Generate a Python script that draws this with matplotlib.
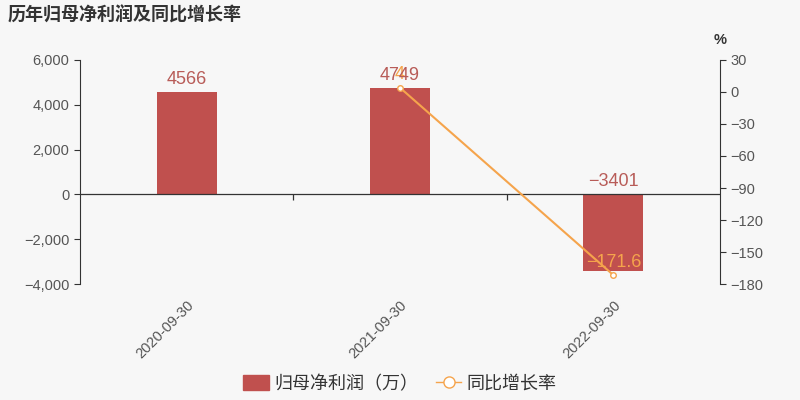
import matplotlib.pyplot as plt
from matplotlib.ticker import FuncFormatter
from matplotlib.patches import FancyBboxPatch
from matplotlib.lines import Line2D

plt.rcParams['font.family'] = ['Liberation Sans', 'Noto Sans CJK SC', 'DejaVu Sans']
plt.rcParams['axes.unicode_minus'] = False

dates = ["2020-09-30", "2021-09-30", "2022-09-30"]
profit = [4566, 4749, -3401]
growth_x = [1, 2]
growth = [4.0, -171.6]

bar_color = "#c0504e"
line_color = "#f5a44c"
axis_color = "#333333"
text_color = "#555555"
cjk = ['Noto Sans CJK SC', 'DejaVu Sans']

fig = plt.figure(figsize=(8, 4), dpi=100, facecolor="#f7f7f7")
ax = fig.add_axes([0.1, 0.29, 0.8, 0.56])
ax.set_facecolor("#f7f7f7")

x = range(len(dates))
ax.bar(x, profit, width=0.28, color=bar_color, zorder=2)

ax.set_xlim(-0.5, 2.5)
ax.set_ylim(-4000, 6000)
ax.set_yticks(range(-4000, 6001, 2000))
ax.yaxis.set_major_formatter(FuncFormatter(lambda v, p: f"{int(v):,}".replace("-", "\u2212")))
ax.axhline(0, color=axis_color, lw=0.9, zorder=3)
ax.vlines([0.5, 1.5], -230, 0, color=axis_color, lw=0.9)
ax.set_xticks(list(x))
ax.set_xticklabels(dates, rotation=45, ha="right", rotation_mode="anchor")
ax.tick_params(axis="x", length=0, pad=10, labelsize=10.5, labelcolor=text_color)
ax.tick_params(axis="y", length=4, color=axis_color, labelsize=10.5, labelcolor=text_color)
for s in ["top", "right", "bottom"]:
    ax.spines[s].set_visible(False)
ax.spines["left"].set_color(axis_color)

ax2 = ax.twinx()
ax2.plot(growth_x, growth, color=line_color, lw=1.5, marker="o", markersize=4,
         markerfacecolor="white", markeredgecolor=line_color, zorder=4)
for i, v in zip(growth_x, growth):
    ax2.text(i, v + 4, f"{v:g}".replace("-", "\u2212"), ha="center", va="bottom",
             fontsize=13, color=line_color, zorder=4)
ax2.set_ylim(-180, 30)
ax2.set_yticks(range(-180, 31, 30))
ax2.yaxis.set_major_formatter(FuncFormatter(lambda v, p: f"{int(v)}".replace("-", "\u2212")))
ax2.tick_params(axis="y", length=4, color=axis_color, labelsize=10.5, labelcolor=text_color)
for s in ["top", "left", "bottom"]:
    ax2.spines[s].set_visible(False)
ax2.spines["right"].set_color(axis_color)
ax2.text(1.0, 1.06, "%", transform=ax2.transAxes, ha="center", va="bottom",
         fontsize=10.5, color=axis_color, fontweight="bold")

# bar value labels drawn on top of the line labels
for i, v in zip(x, profit):
    ax2.annotate(str(v).replace("-", "\u2212"), xy=(i, max(v, 0)), xycoords=("data", ax.transData),
                 xytext=(0, 3), textcoords="offset points", ha="center", va="bottom",
                 fontsize=13, color="#b85c58", zorder=6)

fig.text(0.01, 0.962, "历年归母净利润及同比增长率", fontsize=13, fontweight="bold",
         color="#333333", va="center", family=cjk)

handles = [
    FancyBboxPatch((0, 0), 1, 1, boxstyle="round,pad=0.1", color=bar_color),
    Line2D([0], [0], color=line_color, lw=1, marker="o", markersize=8,
           markerfacecolor="white", markeredgecolor=line_color),
]
fig.legend(handles, ["归母净利润（万）", "同比增长率"], loc="center", bbox_to_anchor=(0.5, 0.04),
           ncol=2, frameon=False, handlelength=1.4, handleheight=0.9, columnspacing=1.0,
           handletextpad=0.3, labelcolor="#333333", prop={"family": cjk, "size": 13})

fig.savefig("out.png", facecolor=fig.get_facecolor())
